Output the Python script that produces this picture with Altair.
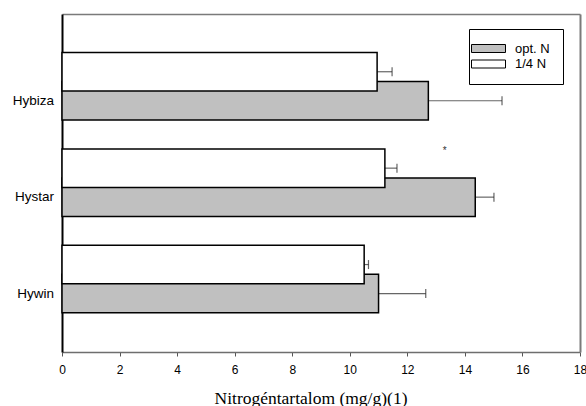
import altair as alt
import pandas as pd

# ---- data ----
categories = ["Hybiza", "Hystar", "Hywin"]
series_names = ["opt. N", "1/4 N"]
opt_values = [12.73, 14.36, 11.00]
opt_errors = [2.56, 0.65, 1.64]
quarter_values = [10.95, 11.22, 10.50]
quarter_errors = [0.52, 0.42, 0.15]
x_ticks = [0, 2, 4, 6, 8, 10, 12, 14, 16, 18]
star_category = ["Hystar"]
star_value = [13.3]
star_text = ["*"]
x_title = "Nitrogéntartalom (mg/g)(1)"

rows = []
for c, v, e in zip(categories, opt_values, opt_errors):
    rows.append({"cat": c, "series": series_names[0], "value": v, "upper": v + e})
for c, v, e in zip(categories, quarter_values, quarter_errors):
    rows.append({"cat": c, "series": series_names[1], "value": v, "upper": v + e})
df = pd.DataFrame(rows)
star_df = pd.DataFrame({"cat": star_category, "value": star_value, "label": star_text})

SANS = "Liberation Sans"
SERIF = "Liberation Serif"
W, H = 518, 338

x_scale = alt.Scale(domain=[0, 18], nice=False, zero=True)
x_axis = alt.Axis(
    values=x_ticks, grid=False, tickSize=4, tickColor="#555", tickWidth=1,
    domainColor="#6e6e6e", domainWidth=1.5, labelFont=SANS, labelFontSize=12,
    labelColor="black", labelPadding=8, title=x_title, titleFont=SERIF,
    titleFontSize=17.5, titleFontWeight="normal", titleColor="black",
    titleX=248.5, titleY=51, titleBaseline="alphabetic", labelFlush=False,
)
y_scale = alt.Scale(domain=categories, paddingInner=0, paddingOuter=0.253, align=0.79)
y_axis = alt.Axis(
    title=None, ticks=False, domainColor="black", domainWidth=2,
    labelFont=SANS, labelFontSize=13.5, labelColor="black", labelPadding=8.5,
)

legend = alt.Legend(
    title=None, orient="none", legendX=407, legendY=15,
    strokeColor="black", padding=13,
    symbolType="M-4.25,-1H4.25V1H-4.25Z", symbolSize=64,
    symbolStrokeColor="black", symbolStrokeWidth=1,
    labelFont=SANS, labelFontSize=13, labelColor="black",
    labelOffset=20, rowPadding=1.5, labelLimit=200,
)
fill = alt.Fill("series:N", scale=alt.Scale(domain=series_names, range=["#c0c0c0", "#ffffff"]),
                legend=legend)

X = alt.X("value:Q", scale=x_scale, axis=x_axis)
Y = alt.Y("cat:N", scale=y_scale, axis=y_axis, sort=categories)

base = alt.Chart(df)
opt_sel = alt.datum.series == series_names[0]
q_sel = alt.datum.series == series_names[1]

WHITE_OFF = -29

gray_err = base.transform_filter(opt_sel).mark_rule(color="#666", strokeWidth=1.2).encode(
    x="value:Q", x2="upper:Q", y=Y)
gray_cap = base.transform_filter(opt_sel).mark_tick(color="#222", size=9, thickness=1.2).encode(
    x="upper:Q", y=Y)
gray_bar = base.transform_filter(opt_sel).mark_bar(size=38.5, stroke="black", strokeWidth=1.5).encode(
    x=X, y=Y, fill=fill)
white_err = base.transform_filter(q_sel).mark_rule(color="#666", strokeWidth=1.2, yOffset=WHITE_OFF).encode(
    x="value:Q", x2="upper:Q", y=Y)
white_cap = base.transform_filter(q_sel).mark_tick(color="#222", size=9, thickness=1.2, yOffset=WHITE_OFF).encode(
    x="upper:Q", y=Y)
white_bar = base.transform_filter(q_sel).mark_bar(size=38.5, stroke="black", strokeWidth=1.5,
                                                  yOffset=WHITE_OFF).encode(x=X, y=Y, fill=fill)
star = alt.Chart(star_df).mark_text(fontSize=10, font=SANS, color="#333", baseline="alphabetic",
                                     align="center", yOffset=-43).encode(
    x="value:Q", y=Y, text="label:N")

main = alt.layer(gray_err, gray_cap, gray_bar, white_err, white_cap, white_bar, star)

# top and right border of the plot area, drawn as extra axes on the shared scales
frame = base.mark_point(opacity=0).encode(
    x=alt.X("value:Q", scale=x_scale,
            axis=alt.Axis(orient="top", labels=False, ticks=False, grid=False, title=None,
                          domainColor="#7a7a7a", domainWidth=1.5)),
    y=alt.Y("cat:N", scale=y_scale, sort=categories,
            axis=alt.Axis(orient="right", labels=False, ticks=False, grid=False, title=None,
                          domainColor="#7a7a7a", domainWidth=2)),
)

chart = alt.layer(main, frame).resolve_axis(x="independent", y="independent").properties(
    width=W, height=H,
    padding={"left": 62, "top": 14, "right": 6, "bottom": 54},
    autosize=alt.AutoSizeParams(type="none"),
    background="white",
).configure_view(stroke=None)

chart.save("out.html", embed_options={"renderer": "svg", "actions": False})
